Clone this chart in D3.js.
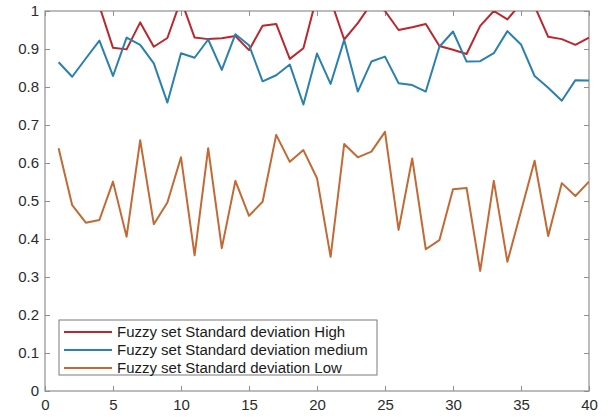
<!DOCTYPE html>
<html>
<head>
<meta charset="utf-8">
<script src="https://cdn.jsdelivr.net/npm/d3@7"></script>
<style>
  html, body { margin: 0; padding: 0; background: #fff; }
  svg { display: block; }
  text { font-family: "Liberation Sans", Arial, sans-serif; }
</style>
</head>
<body>
<svg id="chart" width="615" height="417"></svg>
<script>
const xValues = [1,2,3,4,5,6,7,8,9,10,11,12,13,14,15,16,17,18,19,20,21,22,23,24,25,26,27,28,29,30,31,32,33,34,35,36,37,38,39,40];

const highValues = [1.06, 1.09, 1.05, 1.013, 0.903, 0.899, 0.970, 0.906, 0.929, 1.03,
                    0.930, 0.926, 0.928, 0.934, 0.897, 0.961, 0.966, 0.874, 0.902, 1.04,
                    1.03, 0.925, 0.968, 1.02, 1.0, 0.950, 0.957, 0.966, 0.908, 0.898,
                    0.887, 0.961, 1.0, 0.978, 1.02, 1.013, 0.932, 0.926, 0.911, 0.930];

const mediumValues = [0.865, 0.827, 0.875, 0.922, 0.829, 0.930, 0.911, 0.862, 0.759, 0.889,
                      0.877, 0.925, 0.845, 0.939, 0.910, 0.815, 0.831, 0.859, 0.754, 0.888,
                      0.808, 0.924, 0.788, 0.867, 0.880, 0.810, 0.805, 0.788, 0.906, 0.946,
                      0.867, 0.868, 0.889, 0.947, 0.912, 0.829, 0.798, 0.764, 0.818, 0.817];

const lowValues = [0.639, 0.489, 0.443, 0.450, 0.551, 0.406, 0.660, 0.439, 0.496, 0.615,
                   0.357, 0.639, 0.376, 0.553, 0.461, 0.498, 0.674, 0.603, 0.634, 0.560,
                   0.353, 0.650, 0.615, 0.630, 0.682, 0.424, 0.612, 0.373, 0.397, 0.531,
                   0.534, 0.316, 0.553, 0.340, 0.473, 0.606, 0.408, 0.547, 0.513, 0.551];

const seriesNames = ["Fuzzy set Standard deviation High",
                     "Fuzzy set Standard deviation medium",
                     "Fuzzy set Standard deviation Low"];
const seriesColors = ["#BC262D", "#2A80AE", "#C26A35"];

const xTicks = [0, 5, 10, 15, 20, 25, 30, 35, 40];
const yTicks = [0, 0.1, 0.2, 0.3, 0.4, 0.5, 0.6, 0.7, 0.8, 0.9, 1];

(function () {
const svg = d3.select("#chart");
const pLeft = 45, pRight = 589, pTop = 11, pBottom = 391;

const x = d3.scaleLinear().domain([0, 40]).range([pLeft, pRight]);
const y = d3.scaleLinear().domain([0, 1]).range([pBottom, pTop]);

svg.append("rect").attr("width", 615).attr("height", 417).attr("fill", "#fff");

svg.append("clipPath").attr("id", "plotclip")
  .append("rect")
  .attr("x", pLeft).attr("y", pTop)
  .attr("width", pRight - pLeft).attr("height", pBottom - pTop);

const axisColor = "#8f8f8f";
const labelColor = "#2b2b2b";

function styleAxis(g, showLabels) {
  g.select(".domain").remove();
  g.selectAll(".tick line").attr("stroke", axisColor).attr("stroke-width", 1);
  g.selectAll(".tick text")
    .attr("fill", labelColor)
    .style("font-size", "15px")
    .style("font-family", "'Liberation Sans', Arial, sans-serif")
    .style("display", showLabels ? null : "none");
}

const fmtY = d => (d === 0 || d === 1) ? String(d) : d.toFixed(1);

svg.append("g").attr("transform", `translate(0,${pBottom})`)
  .call(d3.axisBottom(x).tickValues(xTicks).tickSize(-5).tickPadding(8))
  .call(g => styleAxis(g, true));
svg.append("g").attr("transform", `translate(0,${pTop})`)
  .call(d3.axisTop(x).tickValues(xTicks).tickSize(-5))
  .call(g => styleAxis(g, false));
svg.append("g").attr("transform", `translate(${pLeft},0)`)
  .call(d3.axisLeft(y).tickValues(yTicks).tickFormat(fmtY).tickSize(-5).tickPadding(6))
  .call(g => styleAxis(g, true));
svg.append("g").attr("transform", `translate(${pRight},0)`)
  .call(d3.axisRight(y).tickValues(yTicks).tickSize(-5))
  .call(g => styleAxis(g, false));

svg.append("rect")
  .attr("x", pLeft).attr("y", pTop)
  .attr("width", pRight - pLeft).attr("height", pBottom - pTop)
  .attr("fill", "none").attr("stroke", axisColor).attr("stroke-width", 1.2);

const line = d3.line()
  .x((d, i) => x(xValues[i]))
  .y(d => y(d));

const allSeries = [highValues, mediumValues, lowValues];

svg.append("g").attr("clip-path", "url(#plotclip)")
  .selectAll("path")
  .data(allSeries)
  .join("path")
  .attr("d", d => line(d))
  .attr("fill", "none")
  .attr("stroke", (d, i) => seriesColors[i])
  .attr("stroke-width", 2)
  .attr("stroke-linejoin", "round");

const lg = svg.append("g");
lg.append("rect")
  .attr("x", 59).attr("y", 320).attr("width", 318).attr("height", 55)
  .attr("fill", "#fff").attr("stroke", "#7a7a7a").attr("stroke-width", 1);
seriesNames.forEach((name, i) => {
  const yy = 332 + i * 18;
  lg.append("line")
    .attr("x1", 64).attr("x2", 112).attr("y1", yy).attr("y2", yy)
    .attr("stroke", seriesColors[i]).attr("stroke-width", 2);
  const t = lg.append("text")
    .attr("x", 117).attr("y", yy).attr("dy", "0.36em")
    .attr("fill", "#1a1a1a")
    .style("font-size", "14px")
    .text(name);
  const len = t.node().getComputedTextLength();
  t.attr("textLength", len * 1.07).attr("lengthAdjust", "spacingAndGlyphs");
});
})();
</script>
</body>
</html>
